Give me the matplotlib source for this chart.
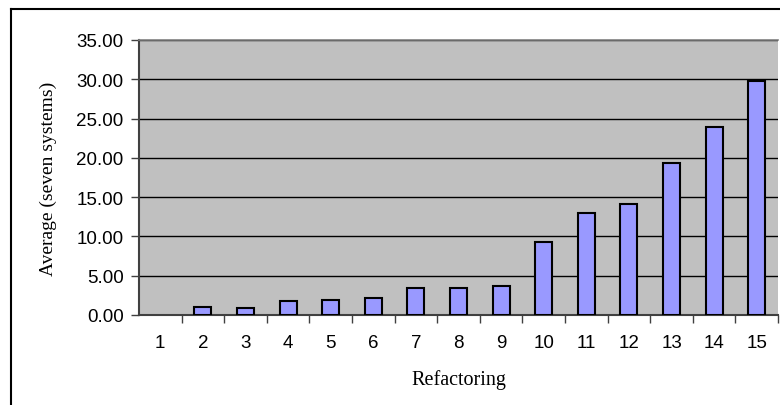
import matplotlib
matplotlib.use('Agg')
import matplotlib.pyplot as plt
from matplotlib.ticker import FixedLocator, FuncFormatter
from matplotlib.lines import Line2D

# Data
refactorings = [str(i) for i in range(1, 16)]
averages = [0.0, 1.0, 0.95, 1.74, 1.91, 2.12, 3.44, 3.42, 3.73,
            9.33, 13.02, 14.17, 19.39, 23.89, 29.82]
y_ticks = [0, 5, 10, 15, 20, 25, 30, 35]

W, H = 780, 406
fig = plt.figure(figsize=(W / 100, H / 100), dpi=100)
ax = fig.add_axes([139 / W, 1 - 316 / H, 639 / W, 275 / H])

# outer chart frame (only left and top are visible in the crop)
fig.add_artist(Line2D([11 / W, 11 / W], [-0.1, 1 - 10 / H], color='black', lw=1.5, transform=fig.transFigure))
fig.add_artist(Line2D([11 / W, 1.1], [1 - 10 / H, 1 - 10 / H], color='black', lw=1.5, transform=fig.transFigure))

ax.set_facecolor('#C0C0C0')
x = list(range(1, len(refactorings) + 1))
edge_w = [1.5 if v > 0 else 0 for v in averages]
ax.bar(x, averages, width=0.4, color='#9999FF', edgecolor='black', linewidth=edge_w, zorder=3)

ax.set_xlim(0.5, len(refactorings) + 0.5)
ax.set_ylim(0, 35)

ax.set_yticks(y_ticks)
ax.yaxis.set_major_formatter(FuncFormatter(lambda v, p: f'{v:.2f}'))
ax.grid(axis='y', color='black', linewidth=1, zorder=1)
ax.set_axisbelow(True)

# ticks between categories, labels at category centres
ax.xaxis.set_major_locator(FixedLocator([i + 0.5 for i in x]))
ax.xaxis.set_major_formatter(FuncFormatter(lambda v, p: ''))
ax.xaxis.set_minor_locator(FixedLocator(x))
ax.set_xticklabels(refactorings, minor=True)
ax.tick_params(axis='x', which='major', length=6, width=1, color='#404040', direction='out')
ax.tick_params(axis='x', which='minor', length=0, pad=14)
ax.tick_params(axis='y', length=6, width=1, color='#404040', direction='out', pad=5)

for lab in ax.get_yticklabels() + ax.get_xticklabels(minor=True):
    lab.set_fontfamily('Liberation Sans')
    lab.set_fontsize(13.5)

for side in ['left', 'bottom']:
    ax.spines[side].set_color('#404040')
    ax.spines[side].set_linewidth(1.5)
ax.spines['top'].set_color('#808080')
ax.spines['top'].set_linewidth(1.2)
ax.spines['right'].set_visible(False)

ax.set_ylabel('Average (seven systems)', fontfamily='Liberation Serif', fontsize=14, labelpad=14)
ax.set_xlabel('Refactoring', fontfamily='Liberation Serif', fontsize=14.5, labelpad=13)

fig.savefig('out.png', dpi=100)
